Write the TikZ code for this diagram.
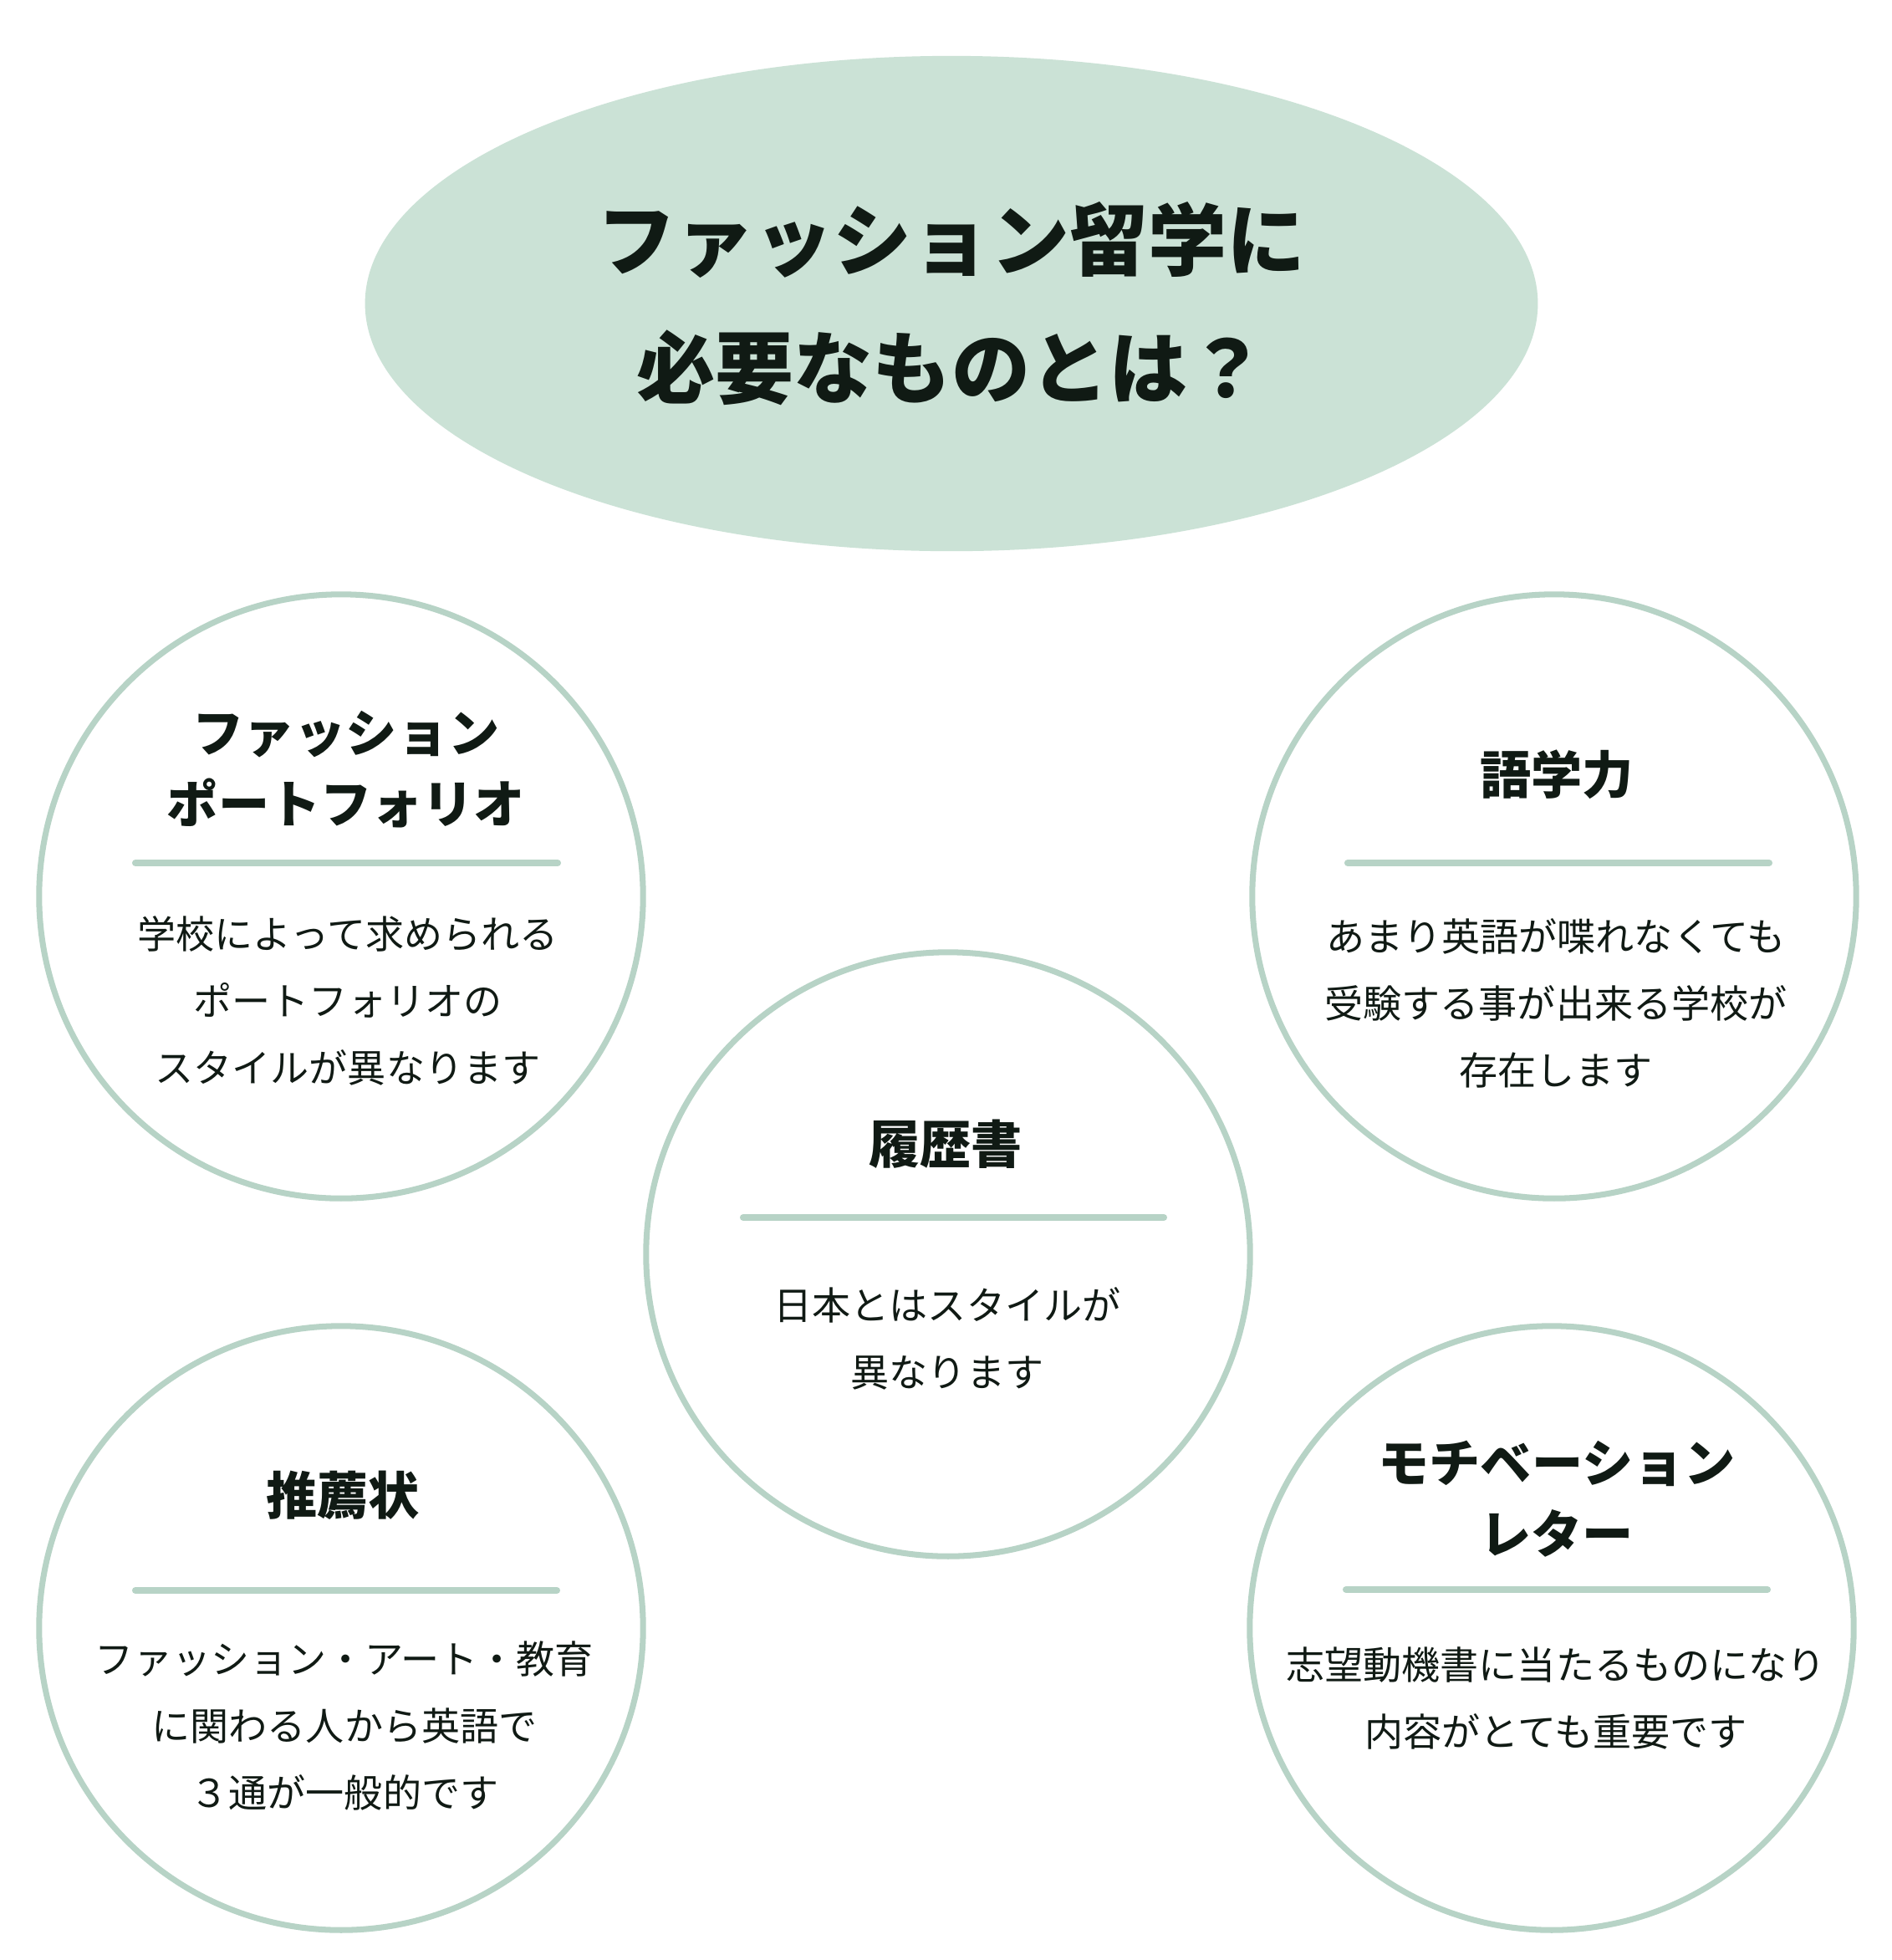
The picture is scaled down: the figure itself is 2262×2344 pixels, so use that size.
\documentclass[tikz,border=0pt]{standalone}
\usepackage{fontspec}
\setmainfont{Noto Sans CJK JP}
\usepackage{xcolor}
\usetikzlibrary{shapes.geometric}
\definecolor{mint}{HTML}{CBE2D6}
\definecolor{ringgreen}{HTML}{B7D3C6}
\definecolor{ink}{HTML}{101A14}

\begin{document}
\begin{tikzpicture}[x=0.01cm, y=-0.01cm,
  ring/.style={circle, draw=ringgreen, line width=2pt, minimum size=7.22cm, inner sep=0pt},
  heading/.style={text=ink, align=center, font=\fontsize{17.4pt}{24.2pt}\selectfont\bfseries},
  body/.style={text=ink, align=center, font=\fontsize{13.1pt}{22.8pt}\selectfont},
  rule/.style={draw=ringgreen, line width=2.3pt, line cap=round}]
\useasboundingbox[fill=white] (0,0) rectangle (2262,2344);

\node[ellipse, fill=mint, minimum width=14.02cm, minimum height=5.92cm, text=ink, align=center,
      font=\fontsize{26.75pt}{43.5pt}\selectfont\bfseries] (head) at (1138,363) {ファッション留学に\\必要なものとは？};

\node[ring] (portfolio) at (408,1072) {};
\node[heading] (portfoliotitle) at (414,920) {ファッション\\ポートフォリオ};
\draw[rule] (162,1032) -- (667,1032);
\node[body] (portfoliotext) at (416,1197) {学校によって求められる\\ポートフォリオの\\スタイルが異なります};

\node[ring] (language) at (1859,1072) {};
\node[heading] (languagetitle) at (1862,926) {語学力};
\draw[rule] (1612,1032) -- (2116,1032);
\node[body] (languagetext) at (1861,1200) {あまり英語が喋れなくても\\受験する事が出来る学校が\\存在します};

\node[ring] (resume) at (1134,1500) {};
\node[heading] (resumetitle) at (1131,1368) {履歴書};
\draw[rule] (889,1456) -- (1392,1456);
\node[body] (resumetext) at (1133,1601) {日本とはスタイルが\\異なります};

\node[ring] (reference) at (408,1947) {};
\node[heading] (referencetitle) at (410,1788) {推薦状};
\draw[rule] (162,1902) -- (666,1902);
\node[body] (referencetext) at (412,2064) {ファッション・アート・教育\\に関わる人から英語で\\３通が一般的です};

\node[ring] (motivation) at (1856,1947) {};
\node[heading] (motivationtitle) at (1862,1793) {モチベーション\\レター};
\draw[rule] (1610,1901) -- (2114,1901);
\node[body] (motivationtext) at (1861,2031) {志望動機書に当たるものになり\\内容がとても重要です};
\end{tikzpicture}
\end{document}
